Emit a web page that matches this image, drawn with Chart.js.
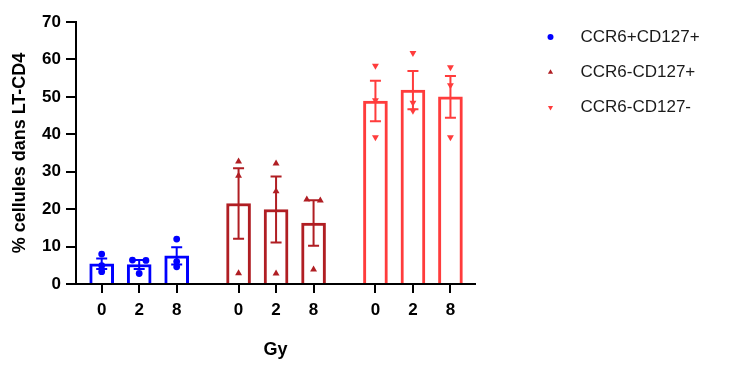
<!DOCTYPE html>
<html>
<head>
<meta charset="utf-8">
<script src="https://cdn.jsdelivr.net/npm/chart.js@4.4.0/dist/chart.umd.min.js"></script>
<style>
body{margin:0;background:#fff;}
#wrap{width:732px;height:367px;}
</style>
</head>
<body>
<div id="wrap"><canvas id="mycanvas" width="732" height="367"></canvas></div>
<script>
// doses (x tick labels) and series
var doses = ['0', '2', '8'];
var seriesNames = ['CCR6+CD127+', 'CCR6-CD127+', 'CCR6-CD127-'];

// CCR6+CD127+
var meanBlue = [5.4, 5.2, 7.5];
var semBlue = [1.4, 1.2, 2.3];
var ptsBlue = [[8.0, 4.9, 3.3], [6.4, 6.3, 2.8], [12.0, 6.0, 4.6]];
// CCR6-CD127+
var meanDark = [21.5, 19.9, 16.3];
var semDark = [9.4, 8.8, 6.1];
var ptsDark = [[32.7, 28.9, 2.9], [32.2, 24.8, 2.8], [22.6, 22.3, 3.9]];
// CCR6-CD127-
var meanLight = [48.9, 51.8, 50.0];
var semLight = [5.4, 5.1, 5.6];
var ptsLight = [[58.3, 49.1, 39.2], [61.7, 48.4, 46.3], [57.9, 53.1, 39.2]];

var yMax = 70, yStep = 10;

var colors = ['#0000ff', '#b01e23', '#ff3c3c'];
var shapes = ['circle', 'triangle', 'triangle'];
var rotations = [0, 0, 180];
var GROUP_STEP = 3.65;

function xOf(g, d){ return g * GROUP_STEP + d; }

// spread points that overlap in value, like the dot plot does
function spread(vals){
	return vals.map(function(v, i){
		var near = vals.findIndex(function(w, j){ return j !== i && Math.abs(w - v) < 1; });
		if (near < 0) return 0;
		return i < near ? -0.18 : 0.18;
	});
}

var groups = [
	{means: meanBlue, sems: semBlue, pts: ptsBlue},
	{means: meanDark, sems: semDark, pts: ptsDark},
	{means: meanLight, sems: semLight, pts: ptsLight}
];

var tickPos = [];
var datasets = [];
groups.forEach(function(gr, g){
	var bars = [], dots = [];
	doses.forEach(function(d, i){
		tickPos.push(xOf(g, i));
		bars.push({x: xOf(g, i), y: gr.means[i]});
		var jit = spread(gr.pts[i]);
		gr.pts[i].forEach(function(v, k){
			dots.push({x: xOf(g, i) + jit[k], y: v});
		});
	});
	datasets.push({
		type: 'bar', label: seriesNames[g], data: bars, sem: gr.sems,
		backgroundColor: '#ffffff', borderColor: colors[g], borderWidth: 3,
		barThickness: 24, grouped: false, borderSkipped: 'start', order: 2
	});
	datasets.push({
		type: 'scatter', label: seriesNames[g], data: dots,
		pointStyle: shapes[g], rotation: rotations[g], pointRadius: g == 0 ? 3.4 : 4,
		backgroundColor: colors[g], borderWidth: 0, order: 1
	});
});

var errorBars = {
	id: 'errorBars',
	afterDatasetDraw: function(chart, args){
		var ds = chart.data.datasets[args.index];
		if (!ds.sem) return;
		var ctx = chart.ctx, xs = chart.scales.x, ys = chart.scales.y;
		ctx.save();
		ctx.strokeStyle = ds.borderColor;
		ctx.lineWidth = 2;
		ds.data.forEach(function(p, i){
			var x = xs.getPixelForValue(p.x);
			var top = ys.getPixelForValue(p.y + ds.sem[i]);
			var bot = ys.getPixelForValue(p.y - ds.sem[i]);
			ctx.beginPath();
			ctx.moveTo(x, top); ctx.lineTo(x, bot);
			ctx.moveTo(x - 5.5, top); ctx.lineTo(x + 5.5, top);
			ctx.moveTo(x - 5.5, bot); ctx.lineTo(x + 5.5, bot);
			ctx.stroke();
		});
		ctx.restore();
	}
};

var sideLegend = {
	id: 'sideLegend',
	afterDraw: function(chart){
		var ctx = chart.ctx;
		ctx.save();
		ctx.font = '17px "Liberation Sans", Arial, sans-serif';
		ctx.textBaseline = 'middle';
		seriesNames.forEach(function(n, i){
			var y = 37 + i * 35.3;
			ctx.fillStyle = colors[i];
			Chart.helpers.drawPoint(ctx, {pointStyle: shapes[i], radius: 3, rotation: rotations[i], borderWidth: 0}, 550.5, y);
			ctx.fillStyle = '#1a1a1a';
			ctx.fillText(n, 580.5, y);
		});
		ctx.restore();
	}
};

Chart.defaults.font.family = '"Liberation Sans", Arial, sans-serif';
Chart.defaults.color = '#000';

var ctx = document.getElementById('mycanvas');
var chart = new Chart(ctx, {
	type: 'bar',
	data: {datasets: datasets},
	plugins: [errorBars, sideLegend],
	options: {
		responsive: false,
		animation: false,
		layout: {padding: {left: 0, top: 22, right: 257, bottom: 0}},
		plugins: {legend: {display: false}, tooltip: {enabled: false}},
		scales: {
			x: {
				type: 'linear',
				offset: false,
				min: -0.685, max: 9.955,
				afterBuildTicks: function(axis){
					axis.ticks = tickPos.map(function(v){ return {value: v}; });
				},
				afterFit: function(axis){ axis.height = 83; },
				ticks: {
					autoSkip: false, maxRotation: 0, padding: 7,
					font: {size: 17, weight: 'bold'},
					callback: function(value, index){ return doses[index % doses.length]; }
				},
				grid: {display: true, offset: false, drawOnChartArea: false, drawTicks: true, tickLength: 9, color: '#000', lineWidth: 2, tickColor: '#000', tickWidth: 2},
				border: {display: true, color: '#000', width: 2},
				title: {display: true, text: 'Gy', font: {size: 18, weight: 'bold'}, padding: {top: 0, bottom: 6}}
			},
			y: {
				min: 0, max: yMax,
				afterFit: function(axis){ axis.width = 76; },
				ticks: {stepSize: yStep, padding: 5, font: {size: 17, weight: 'bold'}},
				grid: {display: true, drawOnChartArea: false, drawTicks: true, tickLength: 10, color: '#000', lineWidth: 2},
				border: {display: true, color: '#000', width: 2},
				title: {display: true, text: '% cellules dans LT-CD4', font: {size: 18, weight: 'bold'}, padding: {top: 9, bottom: 0}}
			}
		}
	}
});
</script>
</body>
</html>
